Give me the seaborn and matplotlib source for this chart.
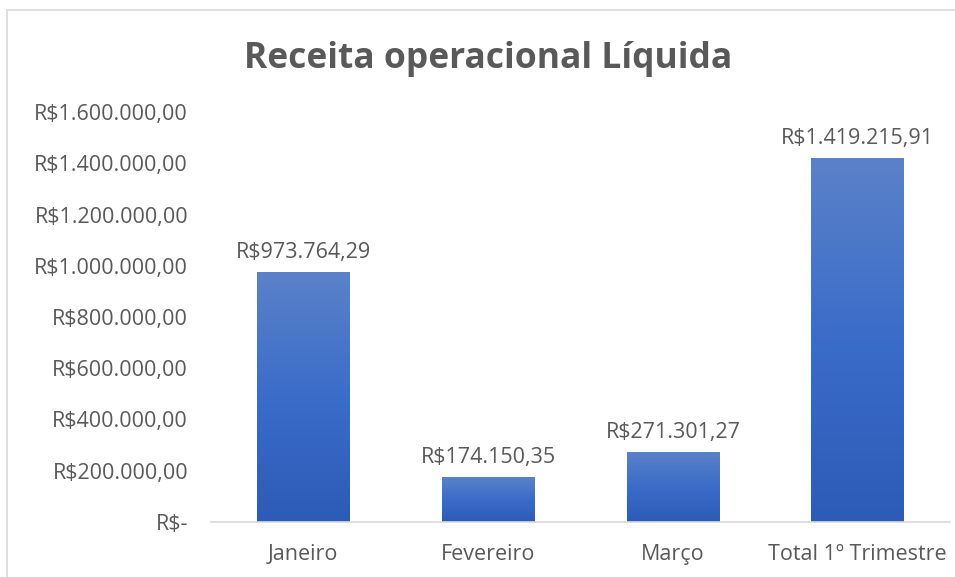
import matplotlib
matplotlib.use("Agg")
import matplotlib.pyplot as plt
import numpy as np
import pandas as pd
import seaborn as sns
from matplotlib.colors import LinearSegmentedColormap
from matplotlib.patches import Rectangle

categorias = ["Janeiro", "Fevereiro", "Março", "Total 1º Trimestre"]
valores = [973764.29, 174150.35, 271301.27, 1419215.91]
rotulos = ["R$973.764,29", "R$174.150,35", "R$271.301,27", "R$1.419.215,91"]
ticks_y = [0, 200000, 400000, 600000, 800000, 1000000, 1200000, 1400000, 1600000]
ticks_y_txt = ["R$-", "R$200.000,00", "R$400.000,00", "R$600.000,00", "R$800.000,00",
               "R$1.000.000,00", "R$1.200.000,00", "R$1.400.000,00", "R$1.600.000,00"]

sns.set_style("white")
plt.rcParams["font.family"] = ["Open Sans", "DejaVu Sans"]
cinza = "#595959"

df = pd.DataFrame({"mes": categorias, "valor": valores})

fig = plt.figure(figsize=(9.55, 5.77), dpi=100)
ax = fig.add_axes([211 / 955, 1 - 522 / 577, 739 / 955, 410 / 577])

sns.barplot(data=df, x="mes", y="valor", color="#4472c4", width=0.5, ax=ax)

# gradiente nas barras
grad = LinearSegmentedColormap.from_list("g", ["#2d5bb7", "#3a6cc9", "#5b82c8"])
for p in ax.patches:
    x0, w, h = p.get_x(), p.get_width(), p.get_height()
    img = ax.imshow(np.linspace(0, 1, 256).reshape(-1, 1), cmap=grad, aspect="auto",
                    extent=[x0, x0 + w, 0, h], origin="lower", zorder=p.get_zorder())
    img.set_clip_path(p)
    p.set_facecolor("none")

ax.set_xlim(-0.5, 3.5)
ax.set_ylim(0, 1600000)
ax.set_yticks(ticks_y)
ax.set_yticklabels(ticks_y_txt)
ax.set_xlabel("")
ax.set_ylabel("")
ax.tick_params(axis="both", length=0, colors=cinza, labelsize=15.5)
ax.tick_params(axis="y", pad=16.5)
ax.tick_params(axis="x", pad=16)
for s in ["top", "right", "left"]:
    ax.spines[s].set_visible(False)
ax.spines["bottom"].set_color("#d9d9d9")
ax.spines["bottom"].set_linewidth(1.2)

for i, (v, t) in enumerate(zip(valores, rotulos)):
    ax.annotate(t, (i, v), xytext=(0, 7), textcoords="offset points",
                ha="center", va="bottom", fontsize=15.5, color=cinza)

fig.text(488 / 955, 1 - 59 / 577, "Receita operacional Líquida", ha="center", va="center",
         fontsize=25.5, fontweight="bold", color=cinza)

# moldura do gráfico
fig.patches.append(Rectangle((7 / 955, -0.01), 1.0, 1 - 10 / 577 + 0.01, transform=fig.transFigure,
                             fill=False, edgecolor="#d9d9d9", linewidth=1.2))

fig.savefig("out.png", dpi=100)
